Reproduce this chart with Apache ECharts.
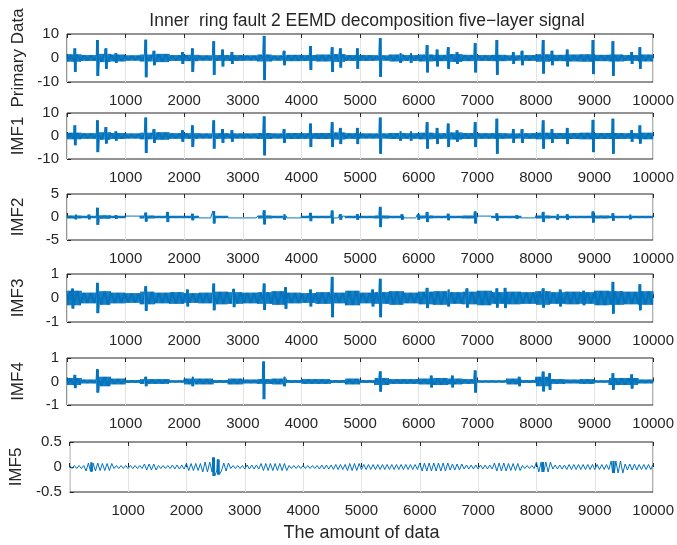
<!DOCTYPE html>
<html><head><meta charset="utf-8">
<script src="https://cdn.jsdelivr.net/npm/echarts@6/dist/echarts.min.js"></script>
<style>html,body{margin:0;padding:0;background:#fff}#c{width:677px;height:545px}</style>
</head><body><div id="c"></div>
<script>
// ---- data (x = sample index 0..10000) ----
const xTickValues = [1000,2000,3000,4000,5000,6000,7000,8000,9000,10000];
const panelNames = ['Primary Data','IMF1','IMF2','IMF3','IMF4','IMF5'];
const yMins = [-10,-10,-5,-1,-1,-0.5];
const yMaxs = [10,10,5,1,1,0.5];
const yTicks = [10,10,5,1,1,0.5];

// noise envelope, one value per 250 samples
const p1Noise = [1.5,1.2,1.7,1.4,1.1,1.4,1.7,1.2,1.3,1.1,1.2,1.2,1.1,1.4,1.1,1.3,1.2,1.4,1.6,1.2,1.2,1.1,1.4,1.2,1.4,1.3,1.6,1.3,1.2,1.3,1.1,1.2,1.5,1.3,1.4,1.5,1.3,1.4,1.2,1.4];
const p2Noise = [1.4,1.2,1.6,1.3,1.1,1.4,1.6,1.2,1.2,1.1,1.2,1.1,1.1,1.3,1.1,1.3,1.2,1.3,1.5,1.2,1.1,1.1,1.3,1.2,1.4,1.2,1.5,1.3,1.2,1.2,1.1,1.2,1.4,1.3,1.3,1.4,1.3,1.3,1.2,1.4];
const p3Noise = [0.3,0.25,0.35,0.25,0.2,0.3,0.25,0.25,0.25,0.2,0.25,0.2,0.2,0.3,0.25,0.2,0.25,0.25,0.2,0.25,0.25,0.3,0.25,0.2,0.3,0.25,0.25,0.3,0.2,0.25,0.25,0.2,0.3,0.25,0.25,0.25,0.3,0.25,0.25,0.25];
const p4Noise = [0.3,0.22,0.28,0.22,0.2,0.26,0.22,0.24,0.2,0.22,0.26,0.24,0.22,0.24,0.28,0.22,0.2,0.24,0.22,0.3,0.22,0.24,0.28,0.22,0.26,0.28,0.24,0.26,0.3,0.24,0.26,0.24,0.28,0.24,0.26,0.24,0.3,0.28,0.26,0.28];
const p5Noise = [0.15,0.08,0.2,0.12,0.06,0.1,0.1,0.05,0.12,0.12,0.06,0.12,0.08,0.1,0.12,0.06,0.1,0.1,0.06,0.12,0.06,0.15,0.1,0.1,0.12,0.15,0.12,0.1,0.05,0.05,0.12,0.06,0.2,0.1,0.08,0.1,0.05,0.15,0.15,0.08];
const p6Noise = [0.03,0.08,0.07,0.03,0.03,0.06,0.03,0.04,0.07,0.1,0.08,0.03,0.04,0.07,0.07,0.03,0.03,0.04,0.05,0.07,0.05,0.05,0.05,0.05,0.08,0.08,0.06,0.04,0.04,0.08,0.07,0.03,0.1,0.04,0.05,0.05,0.05,0.12,0.06,0.05];

// impulses: position, peak up, peak down
const p1SpikeX = [120,505,650,820,1330,1470,1955,2125,2490,2640,2800,3350,3690,4140,4510,4650,4940,5330,5670,5850,6130,6300,6490,6640,6950,7320,7600,7750,8110,8260,8520,8960,9300,9620,9760];
const p1SpikeHi = [4,7.5,4,2,7.6,3,2.5,4,7,3.5,2.5,9.2,3,5,4.5,4,4,8.3,2,2,5.4,3.5,4.5,2.5,6.2,7.5,2.5,3,7.5,3,3.5,7.5,7,2.5,4.5];
const p1SpikeLo = [-5.8,-7.5,-4.5,-2,-8,-3,-2.5,-5.8,-7,-3.5,-2.5,-9.2,-3,-5,-5.8,-4,-4.5,-7.9,-2,-2,-6,-3.5,-4.5,-2.5,-6,-7,-2.5,-3,-6.5,-3,-3.5,-6.7,-7.5,-2.5,-4.5];

const p2SpikeX = [120,505,650,820,1330,1470,1955,2125,2490,2640,2800,3350,3690,4140,4510,4650,4940,5330,5670,5850,6130,6300,6490,6640,6950,7320,7600,7750,8110,8260,8520,8960,9300,9620,9760];
const p2SpikeHi = [4.6,6.8,3.9,2,8,3,2.5,4.6,6.8,3,2.5,8.5,3,5.4,6,3.5,3.5,8,2,2,6,3.5,5.4,2.5,6,7.5,3,3,6.8,3,3.5,7,7.5,2.5,4.6];
const p2SpikeLo = [-4,-7,-3.3,-2,-7.4,-3,-2.5,-4.8,-5.5,-3,-2.5,-8.4,-3,-4.8,-4.8,-3.5,-3.5,-7.7,-2,-2,-5.5,-3.5,-4.8,-2.5,-4.8,-7.7,-3,-3,-5.5,-3,-3.5,-7,-7.7,-2.5,-3.3];

const p3SpikeX = [130,360,505,820,1330,1700,2125,2490,3350,3690,4140,4510,4650,4940,5330,5700,5980,6130,6490,6950,7320,7660,8110,8350,8520,8960,9300,9590];
const p3SpikeHi = [0.5,0.5,2.0,0.4,0.95,1.1,0.7,1.3,1.45,0.6,0.9,1.4,0.6,0.6,2.2,0.6,0.6,1.1,0.7,1.2,0.8,0.4,1.1,0.6,0.6,1.2,0.8,0.5];
const p3SpikeLo = [-0.5,-0.5,-1.7,-0.4,-1,-1.1,-0.7,-1.4,-1.6,-0.6,-0.9,-1.4,-0.6,-0.6,-2.2,-0.6,-0.6,-1.1,-0.7,-1.4,-0.8,-0.4,-1.1,-0.6,-0.6,-1.2,-0.8,-0.5];

const p4SpikeX = [80,505,1330,2040,2490,2830,3350,3715,4140,4510,5200,5330,6130,6490,6810,7320,7460,8110,8400,8800,9300,9760];
const p4SpikeHi = [0.39,0.63,0.49,0.35,0.6,0.38,0.6,0.45,0.35,0.88,0.35,0.8,0.42,0.35,0.4,0.4,0.42,0.4,0.35,0.3,0.67,0.57];
const p4SpikeLo = [-0.44,-0.63,-0.54,-0.35,-0.51,-0.38,-0.5,-0.45,-0.35,-0.8,-0.35,-0.8,-0.42,-0.35,-0.4,-0.4,-0.42,-0.4,-0.35,-0.3,-0.65,-0.51];

const p5SpikeX = [120,505,1330,2125,3340,3690,5330,6200,6560,6950,7700,8110,8220,9300,9620];
const p5SpikeHi = [0.28,0.52,0.2,0.2,0.85,0.2,0.43,0.25,0.25,0.47,0.2,0.42,0.35,0.35,0.3];
const p5SpikeLo = [-0.28,-0.47,-0.2,-0.2,-0.75,-0.2,-0.43,-0.25,-0.25,-0.47,-0.2,-0.42,-0.35,-0.35,-0.3];

const p6SpikeX = [350,2450,2530,8090,9300];
const p6SpikeHi = [0.09,0.19,0.15,0.1,0.12];
const p6SpikeLo = [-0.09,-0.18,-0.15,-0.1,-0.12];

// ---- build line data from envelope + impulses ----
function build(noise, sx, hi, lo, step) {
  const pts = [];
  let k = 0;
  for (let x = 0; x <= 10000; x += step, k++) {
    if (sx.some(p => x >= p - 2 && x <= p + 37)) continue;
    const a = noise[Math.min(noise.length - 1, Math.floor(x / 250))];
    pts.push([x, k % 2 ? -a : a]);
  }
  sx.forEach((p, i) => {
    pts.push([p, hi[i]], [p + 7, lo[i]], [p + 14, hi[i]], [p + 21, lo[i]], [p + 28, hi[i]], [p + 35, lo[i]]);
  });
  pts.sort((a, b) => a[0] - b[0]);
  return pts;
}
const seriesData = [
  build(p1Noise, p1SpikeX, p1SpikeHi, p1SpikeLo, 10),
  build(p2Noise, p2SpikeX, p2SpikeHi, p2SpikeLo, 10),
  build(p3Noise, p3SpikeX, p3SpikeHi, p3SpikeLo, 10),
  build(p4Noise, p4SpikeX, p4SpikeHi, p4SpikeLo, 10),
  build(p5Noise, p5SpikeX, p5SpikeHi, p5SpikeLo, 10),
  build(p6Noise, p6SpikeX, p6SpikeHi, p6SpikeLo, 40)
];

// ---- layout ----
const tops = [34,113,194,274,358,442];
const heights = [48,46,46,48,47,50];
const FONT = 'Liberation Sans, Arial, Helvetica, sans-serif';
const AX = '#262626';

const grids = [], xAxes = [], yAxes = [], series = [];
for (let i = 0; i < 6; i++) {
  grids.push({left: 67, right: 23, top: tops[i], height: heights[i], show: true,
              borderColor: AX, borderWidth: 1, backgroundColor: '#fff'});
  const xb = {
    gridIndex: i, type: 'value', min: 0, max: 10000, interval: 1000,
    axisLine: {show: false},
    axisTick: {show: true, inside: true, length: 4, lineStyle: {color: AX}},
    splitLine: {show: false}
  };
  xAxes.push(Object.assign({}, xb, {
    position: 'bottom',
    splitLine: {show: true, lineStyle: {color: '#e3e3e3', width: 1}},
    axisLabel: {show: true, margin: 11, fontSize: 15, color: AX, fontFamily: FONT,
      formatter: v => xTickValues.indexOf(v) >= 0 ? String(v) : ''},
    name: i === 5 ? 'The amount of data' : '',
    nameLocation: 'middle', nameGap: 32,
    nameTextStyle: {fontSize: 18, color: AX, fontFamily: FONT}
  }));
  xAxes.push(Object.assign({}, xb, {position: 'top', axisLabel: {show: false}}));
  yAxes.push({
    gridIndex: i, type: 'value', min: yMins[i], max: yMaxs[i], interval: yTicks[i],
    axisLine: {show: false},
    axisTick: {show: true, inside: true, length: 4, lineStyle: {color: AX}},
    splitLine: {show: false},
    axisLabel: {fontSize: 15, color: AX, margin: 8, fontFamily: FONT},
    name: panelNames[i], nameLocation: 'middle', nameRotate: 90, nameGap: 40,
    nameTextStyle: {fontSize: 17, color: AX, fontFamily: FONT}
  });
  series.push({
    type: 'line', xAxisIndex: 2 * i, yAxisIndex: i, data: seriesData[i],
    symbol: 'none', showSymbol: false, sampling: null,
    lineStyle: {color: '#0072BD', width: 1}, silent: true, clip: true
  });
}

const chart = echarts.init(document.getElementById('c'), null, {renderer: 'canvas'});
chart.setOption({
  animation: false,
  backgroundColor: '#fff',
  title: {
    text: 'Inner  ring fault 2 EEMD decomposition five\u2212layer signal',
    left: 362, top: 7, textAlign: 'center',
    textStyle: {fontSize: 17.5, fontWeight: 'normal', color: AX, fontFamily: FONT}
  },
  grid: grids, xAxis: xAxes, yAxis: yAxes, series: series
});
</script>
</body></html>
